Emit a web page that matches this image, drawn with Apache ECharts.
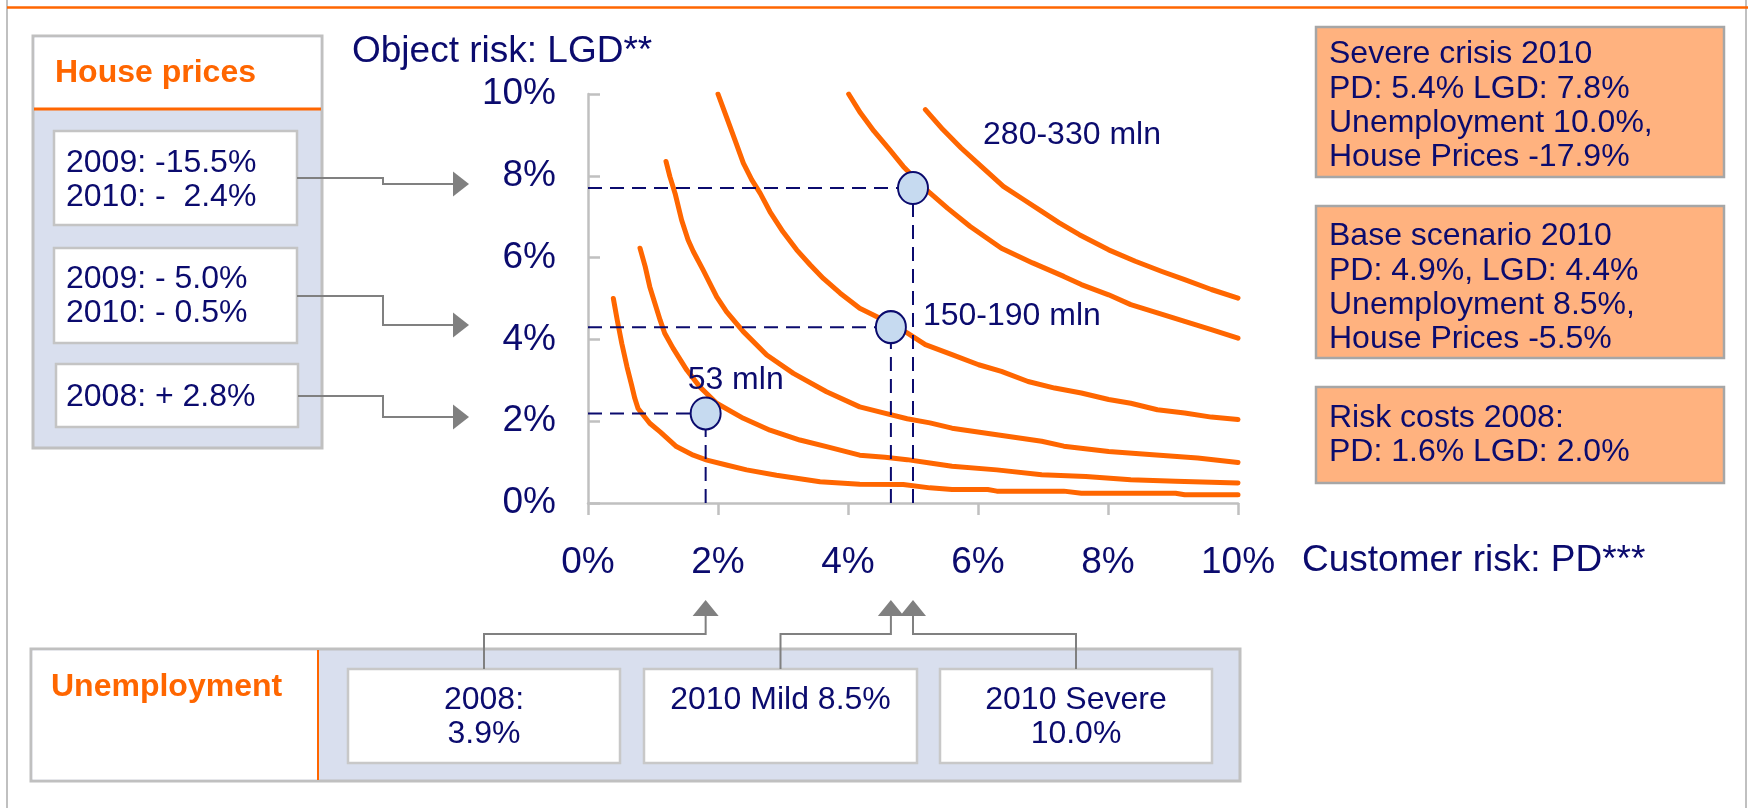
<!DOCTYPE html>
<html>
<head>
<meta charset="utf-8">
<script src="https://cdn.jsdelivr.net/npm/echarts@6/dist/echarts.min.js"></script>
<style>
  html, body { margin: 0; padding: 0; background: #ffffff; }
  #chart { width: 1748px; height: 808px; }
</style>
</head>
<body>
<div id="chart"></div>
<script>
// Iso-loss curves: customer risk PD (x, %) against object risk LGD (y, %), innermost first
const curveA_pd  = [0.39, 0.45, 0.52, 0.60, 0.67, 0.72, 0.77, 0.95, 1.11, 1.36, 1.62, 1.83, 2.13, 2.44, 2.90, 3.57, 4.18, 4.85, 5.26, 5.60, 6.15, 6.29, 7.32, 7.59, 9.04, 9.18, 10.0];
const curveA_lgd = [5.00, 4.47, 3.90, 3.33, 2.89, 2.56, 2.31, 1.95, 1.74, 1.38, 1.17, 1.05, 0.93, 0.81, 0.68, 0.52, 0.46, 0.45, 0.37, 0.33, 0.33, 0.29, 0.29, 0.24, 0.24, 0.20, 0.20];

const curveB_pd  = [0.80, 0.88, 0.95, 1.03, 1.11, 1.18, 1.31, 1.52, 1.72, 1.98, 2.39, 2.80, 3.26, 3.67, 4.18, 4.57, 4.91, 5.26, 5.60, 6.29, 6.98, 7.66, 8.35, 9.04, 10.0];
const curveB_lgd = [6.23, 5.78, 5.29, 4.88, 4.47, 4.15, 3.78, 3.25, 2.84, 2.44, 2.07, 1.78, 1.54, 1.38, 1.17, 1.12, 1.06, 0.98, 0.90, 0.81, 0.69, 0.65, 0.57, 0.53, 0.49];

const curveC_pd  = [1.20, 1.26, 1.34, 1.44, 1.54, 1.62, 1.77, 1.98, 2.13, 2.39, 2.75, 3.16, 3.67, 4.18, 4.50, 4.91, 5.26, 5.60, 6.29, 6.98, 7.32, 8.01, 8.69, 9.38, 10.0];
const curveC_lgd = [8.35, 7.98, 7.57, 6.92, 6.43, 6.15, 5.70, 5.04, 4.68, 4.19, 3.62, 3.17, 2.72, 2.35, 2.22, 2.06, 1.96, 1.83, 1.67, 1.51, 1.39, 1.26, 1.18, 1.10, 0.99];

const curveD_pd  = [2.00, 2.13, 2.26, 2.39, 2.52, 2.65, 2.80, 3.00, 3.21, 3.42, 3.62, 3.88, 4.18, 4.64, 4.91, 5.19, 5.60, 6.01, 6.36, 6.77, 7.18, 7.59, 8.01, 8.35, 8.76, 9.18, 9.59, 10.0];
const curveD_lgd = [10.0, 9.44, 8.88, 8.31, 7.90, 7.57, 7.12, 6.63, 6.19, 5.82, 5.49, 5.13, 4.76, 4.40, 4.16, 3.87, 3.63, 3.38, 3.22, 2.97, 2.81, 2.69, 2.53, 2.44, 2.28, 2.20, 2.10, 2.04];

const curveE_pd  = [4.01, 4.19, 4.40, 4.64, 4.85, 5.02, 5.26, 5.53, 5.88, 6.36, 6.84, 7.32, 7.59, 8.01, 8.35, 8.76, 9.18, 9.59, 10.0];
const curveE_lgd = [10.0, 9.54, 9.09, 8.64, 8.23, 7.95, 7.58, 7.21, 6.76, 6.23, 5.87, 5.54, 5.34, 5.09, 4.85, 4.65, 4.44, 4.24, 4.03];

const curveF_pd  = [5.19, 5.46, 5.74, 6.05, 6.39, 6.70, 6.98, 7.25, 7.56, 8.01, 8.42, 8.83, 9.18, 9.59, 10.0];
const curveF_lgd = [9.62, 9.13, 8.68, 8.23, 7.74, 7.42, 7.13, 6.85, 6.56, 6.19, 5.91, 5.66, 5.46, 5.22, 5.01];

// Scenario points: 2008 actual, 2010 base, 2010 severe
const pointPD     = [1.81, 4.66, 5.00];
const pointLGD    = [2.19, 4.30, 7.70];
const pointLabels = ['53 mln', '150-190 mln', '280-330 mln'];

// Axis ticks (percent)
const axisTicks = [0, 2, 4, 6, 8, 10];
const yAxisTitle = 'Object risk: LGD**';
const xAxisTitle = 'Customer risk: PD***';

// Side panels
const housePriceTitle = 'House prices';
const housePriceNotes = [
  ['2009: -15.5%', '2010: -  2.4%'],
  ['2009: - 5.0%', '2010: - 0.5%'],
  ['2008: + 2.8%']
];
const unemploymentTitle = 'Unemployment';
const unemploymentNotes = [
  ['2008:', '3.9%'],
  ['2010 Mild 8.5%'],
  ['2010 Severe', '10.0%']
];
const scenarioNotes = [
  ['Severe crisis 2010', 'PD: 5.4% LGD: 7.8%', 'Unemployment 10.0%,', 'House Prices -17.9%'],
  ['Base scenario 2010', 'PD: 4.9%, LGD: 4.4%', 'Unemployment 8.5%,', 'House Prices -5.5%'],
  ['Risk costs 2008:', 'PD: 1.6% LGD: 2.0%']
];

const FONT = '"Liberation Sans", Arial, sans-serif';
const NAVY = '#0b0b6e';
const ORANGE = '#ff6600';
const PANEL_BLUE = '#d9dfee';
const GREY = '#c0c0c0';
const ARROW = '#808080';

const curves = [
  [curveA_pd, curveA_lgd], [curveB_pd, curveB_lgd], [curveC_pd, curveC_lgd],
  [curveD_pd, curveD_lgd], [curveE_pd, curveE_lgd], [curveF_pd, curveF_lgd]
];

const chart = echarts.init(document.getElementById('chart'), null, { renderer: 'canvas' });

const series = [];
curves.forEach(function (c, k) {
  series.push({
    type: 'line', name: 'curve' + k,
    data: c[0].map(function (p, i) { return [p, c[1][i]]; }),
    showSymbol: false, silent: true, z: 2,
    lineStyle: { color: ORANGE, width: 5, cap: 'round', join: 'round' }
  });
});
pointPD.forEach(function (p, i) {
  const guide = { color: NAVY, width: 2, type: [14, 8] };
  series.push({ type: 'line', data: [[0, pointLGD[i]], [p, pointLGD[i]]], showSymbol: false, silent: true, z: 3, lineStyle: guide });
  series.push({ type: 'line', data: [[p, 0], [p, pointLGD[i]]], showSymbol: false, silent: true, z: 3, lineStyle: guide });
});
const labelOffsets = [[30, -33], [121, -11], [159, -53]];
series.push({
  type: 'scatter', z: 5, symbolSize: [30, 32], silent: true,
  itemStyle: { color: '#c6daf0', borderColor: NAVY, borderWidth: 2, opacity: 1 },
  data: pointPD.map(function (p, i) {
    return {
      value: [p, pointLGD[i]],
      label: {
        show: true, formatter: pointLabels[i], position: 'inside', offset: labelOffsets[i],
        color: NAVY, fontSize: 32, fontFamily: FONT, opacity: 1
      }
    };
  })
});

const axisCommon = {
  type: 'value', min: axisTicks[0], max: axisTicks[axisTicks.length - 1], interval: axisTicks[1] - axisTicks[0],
  splitLine: { show: false },
  axisLine: { show: true, lineStyle: { color: GREY, width: 2.5 } },
  axisLabel: { formatter: '{value}%', color: NAVY, fontSize: 37, fontFamily: FONT }
};

chart.setOption({
  animation: false,
  backgroundColor: '#ffffff',
  grid: { left: 588, right: 510, top: 94, bottom: 305, containLabel: false },
  xAxis: Object.assign({}, axisCommon, {
    axisTick: { show: true, inside: false, length: 12, lineStyle: { color: GREY, width: 2.5 } },
    axisLabel: Object.assign({}, axisCommon.axisLabel, { margin: 41, lineHeight: 37 })
  }),
  yAxis: Object.assign({}, axisCommon, {
    axisTick: { show: true, inside: true, length: 12, lineStyle: { color: GREY, width: 2.5 } },
    axisLabel: Object.assign({}, axisCommon.axisLabel, { margin: 32 })
  }),
  series: series
});

// ---- Decorations: frame, panels, notes and connector arrows ----
const g = [];
function rect(x, y, w, h, fill, stroke, lw) {
  g.push({ type: 'rect', silent: true, shape: { x: x, y: y, width: w, height: h },
    style: { fill: fill, stroke: stroke || null, lineWidth: lw || 0 } });
}
function line(points, color, lw) {
  g.push({ type: 'polyline', silent: true, shape: { points: points },
    style: { stroke: color, lineWidth: lw, fill: null } });
}
function tri(points, color) {
  g.push({ type: 'polygon', silent: true, shape: { points: points }, style: { fill: color } });
}
function text(str, x, y, opts) {
  opts = opts || {};
  g.push({ type: 'text', silent: true, x: x, y: y, z: 10,
    style: { text: str, fill: opts.color || NAVY,
      font: (opts.bold ? 'bold ' : '') + (opts.size || 32) + 'px ' + FONT,
      align: opts.align || 'left', verticalAlign: 'middle' } });
}

// page frame
line([[7, 0], [7, 808]], GREY, 2);
line([[1746, 0], [1746, 808]], GREY, 2);
line([[7, 7.5], [1748, 7.5]], ORANGE, 2.5);

// axis titles
text(yAxisTitle, 352, 52, { size: 37 });
text(xAxisTitle, 1302, 561, { size: 37 });

// house prices panel
rect(33, 36, 289, 412, PANEL_BLUE, GREY, 3);
rect(34.5, 37.5, 286, 71, '#ffffff');
line([[34, 109], [321, 109]], ORANGE, 3);
text(housePriceTitle, 55, 73, { color: ORANGE, bold: true });
const hpBoxes = [
  { x: 54, y: 131, w: 243, h: 94, lines: [163, 197], from: 178, to: 184 },
  { x: 54, y: 248, w: 243, h: 95, lines: [279, 313], from: 296, to: 325 },
  { x: 56, y: 364, w: 242, h: 63, lines: [397], from: 396, to: 417 }
];
hpBoxes.forEach(function (b, i) {
  rect(b.x, b.y, b.w, b.h, '#ffffff', '#c4c4c4', 2.5);
  housePriceNotes[i].forEach(function (t, j) { text(t, 66, b.lines[j]); });
  const x0 = b.x + b.w;
  line([[x0, b.from], [383, b.from], [383, b.to], [455, b.to]], ARROW, 2);
  tri([[453, b.to - 12.5], [469, b.to], [453, b.to + 12.5]], ARROW);
});

// scenario boxes
const scBoxes = [
  { y: 27, h: 150, lines: [54, 89, 123, 157] },
  { y: 206, h: 152, lines: [236, 271, 305, 339] },
  { y: 387, h: 96, lines: [418, 452] }
];
scBoxes.forEach(function (b, i) {
  rect(1316, b.y, 408, b.h, '#ffb27f', '#a6a6a6', 2.5);
  scenarioNotes[i].forEach(function (t, j) { text(t, 1329, b.lines[j]); });
});

// unemployment panel
rect(31, 649, 1209, 132, PANEL_BLUE, GREY, 3);
rect(32.5, 650.5, 285, 129, '#ffffff');
line([[318, 650], [318, 780]], ORANGE, 2);
text(unemploymentTitle, 51, 687, { color: ORANGE, bold: true });
const unBoxes = [{ x: 348, w: 272 }, { x: 644, w: 273 }, { x: 940, w: 272 }];
unBoxes.forEach(function (b, i) {
  rect(b.x, 669, b.w, 94, '#ffffff', '#c8c8c8', 2.5);
  const cx = b.x + b.w / 2;
  unemploymentNotes[i].forEach(function (t, j) { text(t, cx, [700, 734][j], { align: 'center' }); });
  const tipX = chart.convertToPixel({ xAxisIndex: 0 }, pointPD[i]);
  line([[cx, 669], [cx, 634], [tipX, 634], [tipX, 614]], ARROW, 2);
  tri([[tipX - 13, 616], [tipX, 600], [tipX + 13, 616]], ARROW);
});

chart.setOption({ graphic: { elements: g } });
</script>
</body>
</html>
